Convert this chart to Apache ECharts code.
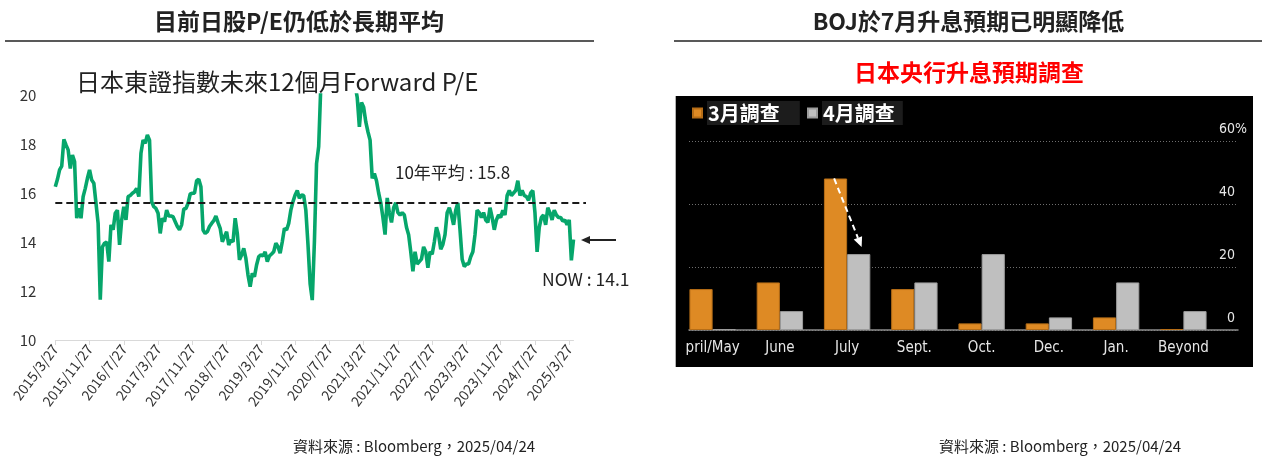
<!DOCTYPE html>
<html>
<head>
<meta charset="utf-8">
<script src="https://cdn.jsdelivr.net/npm/echarts@6/dist/echarts.min.js"></script>
<style>
html,body{margin:0;padding:0;background:#fff;}
#chart{width:1262px;height:458px;}
</style>
</head>
<body>
<div id="chart"></div>
<script>
// 左圖：日本東證指數未來12個月 Forward P/E，約每半月一點（2015/3/27 ~ 2025/4/24）
var peValues = [
    16.26, 16.56, 16.94, 17.1, 18.19, 17.96, 17.76, 17.0, 17.55, 17.28,
    14.97, 15.37, 14.97, 15.85, 16.19, 16.6, 16.94, 16.53, 16.4, 15.58,
    14.76, 11.65, 13.8, 13.95, 14.0, 13.2, 14.7, 14.5, 15.17, 15.3,
    13.88, 14.9, 15.44, 14.9, 15.85, 15.9, 15.99, 16.05, 16.19, 15.85,
    17.62, 18.16, 18.03, 18.37, 18.16, 15.65, 15.44, 15.37, 15.17, 14.35,
    14.97, 14.83, 15.3, 15.06, 15.06, 15.03, 14.83, 14.63, 14.5, 14.7,
    15.35, 15.37, 15.58, 15.96, 15.99, 15.99, 16.5, 16.56, 16.26, 14.49,
    14.35, 14.42, 14.63, 14.76, 14.87, 15.06, 14.79, 14.56, 14.01, 14.22,
    14.42, 13.88, 14.08, 14.01, 14.97, 14.35, 13.27, 13.47, 13.74, 13.33,
    12.65, 12.18, 12.72, 12.58, 13.06, 13.4, 13.47, 13.43, 13.6, 13.2,
    13.43, 13.51, 13.6, 13.95, 13.81, 13.54, 14.01, 14.56, 14.49, 14.76,
    15.3, 15.65, 15.92, 16.1, 15.78, 15.92, 15.9, 15.3, 13.9, 12.3,
    11.63, 14.0, 17.2, 17.9, 20.4, 21.5, 22.0, 22.5, 22.8, 23.0,
    22.6, 22.2, 22.4, 21.8, 21.6, 21.2, 21.0, 20.8, 21.0, 20.6,
    20.4, 19.9, 18.7, 19.7, 19.5, 18.9, 18.5, 18.16, 16.6, 16.8,
    16.5, 16.0, 15.6, 15.0, 14.3, 15.8, 15.2, 14.8, 15.4, 15.6,
    15.2, 15.1, 15.2, 15.1, 14.6, 14.3, 13.6, 12.8, 13.6, 13.1,
    13.2, 13.3, 13.8, 13.6, 12.95, 13.6, 13.5, 14.0, 14.6, 14.3,
    13.7, 13.9, 14.3, 15.2, 15.4, 15.1, 14.7, 15.3, 15.6, 14.5,
    13.3, 13.0, 13.1, 13.1, 13.4, 13.6, 14.3, 15.3, 15.2, 15.0,
    15.2, 14.9, 14.8, 15.4, 15.0, 14.5, 14.9, 15.1, 15.0, 15.3,
    15.1, 15.9, 16.1, 15.9, 16.0, 16.1, 16.5, 15.9, 16.1, 15.9,
    15.85, 15.7, 16.0, 16.1, 15.2, 13.6, 14.6, 15.0, 15.1, 14.7,
    15.4, 15.2, 14.9, 15.3, 15.1, 15.0, 15.0, 14.85, 14.9, 14.7,
    14.9, 13.25, 14.1
];
var xTickLabels = ['2015/3/27', '2015/11/27', '2016/7/27', '2017/3/27', '2017/11/27', '2018/7/27',
    '2019/3/27', '2019/11/27', '2020/7/27', '2021/3/27', '2021/11/27', '2022/7/27',
    '2023/3/27', '2023/11/27', '2024/7/27', '2025/3/27'];
var peAvgLine = 15.6;
var peAvgText = '10年平均 : 15.8';
var peNowText = 'NOW : 14.1';

// 右圖：日本央行升息預期調查 (%)
var bojCategories = ['pril/May', 'June', 'July', 'Sept.', 'Oct.', 'Dec.', 'Jan.', 'Beyond'];
var marchSurvey = [13.0, 15.1, 48.1, 13.0, 2.1, 2.1, 4.0, 0.3];
var aprilSurvey = [0.3, 6.0, 24.1, 15.1, 24.1, 4.0, 15.1, 6.0];

var cjk = '"Noto Sans CJK TC", "Noto Sans", sans-serif';
var narrow = '"Liberation Sans Narrow", "DejaVu Sans Condensed", "Roboto Condensed", "Noto Sans", sans-serif';

var chart = echarts.init(document.getElementById('chart'));

function legendFor(name, left, padRight) {
    return {
        data: [name],
        left: left,
        top: 101,
        padding: 0,
        icon: 'rect',
        itemWidth: 9,
        itemHeight: 9,
        selectedMode: false,
        textStyle: {
            color: '#fff',
            fontSize: 20,
            fontWeight: 'bold',
            lineHeight: 22,
            fontFamily: cjk,
            backgroundColor: '#1c1c1c',
            padding: [1, padRight, 1, 1]
        }
    };
}

var lastIdx = peValues.length - 1;

var option = {
    animation: false,
    textStyle: { fontFamily: cjk },
    grid: [
        { left: 55.3, top: 95, width: 518.2, height: 245 },
        { left: 679, top: 141, width: 538, height: 189 },
        { left: 689, top: 141, width: 549, height: 189 }
    ],
    legend: [
        legendFor('3月調查', 692, 20),
        legendFor('4月調查', 807, 8)
    ],
    xAxis: [
        {
            gridIndex: 0,
            type: 'category',
            boundaryGap: false,
            data: peValues.map(function (v, i) { return i; }),
            axisLine: { lineStyle: { color: '#d9d9d9' } },
            axisTick: { interval: 15, length: 5, lineStyle: { color: '#d9d9d9' } },
            axisLabel: {
                interval: 15,
                rotate: 53,
                fontSize: 14,
                color: '#333',
                margin: 6,
                formatter: function (v, idx) { return xTickLabels[idx / 16] || ''; }
            }
        },
        {
            gridIndex: 1,
            type: 'category',
            data: bojCategories,
            axisLine: { show: false },
            axisTick: { alignWithLabel: true, interval: 0, length: 5, lineStyle: { color: '#8c8c8c' } },
            axisLabel: { interval: 0, color: '#e6e6e6', fontSize: 15, fontFamily: narrow, margin: 11 }
        },
        {
            gridIndex: 2,
            type: 'value',
            min: 0,
            max: 1,
            axisLine: { show: true, lineStyle: { color: '#8c8c8c', width: 1.5 } },
            axisTick: { show: false },
            axisLabel: { show: false },
            splitLine: { show: false }
        }
    ],
    yAxis: [
        {
            gridIndex: 0,
            type: 'value',
            min: 10,
            max: 20,
            interval: 2,
            axisLine: { show: false },
            axisTick: { show: false },
            splitLine: { show: false },
            axisLabel: { fontSize: 15, color: '#333', margin: 19 }
        },
        { gridIndex: 1, type: 'value', min: 0, max: 60, show: false },
        {
            gridIndex: 2,
            type: 'value',
            min: 0,
            max: 60,
            interval: 20,
            position: 'right',
            axisLine: { show: false },
            axisTick: { show: false },
            splitLine: { lineStyle: { color: '#6e6e6e', type: [1, 2] } },
            axisLabel: {
                inside: true,
                margin: -9,
                verticalAlign: 'bottom',
                padding: [0, 0, 5, 0],
                color: '#e6e6e6',
                fontSize: 14,
                fontFamily: narrow,
                formatter: function (v) { return v === 60 ? '60%' : v + '{h|%}'; },
                rich: { h: { color: 'rgba(0,0,0,0)', fontSize: 14, fontFamily: narrow } }
            }
        }
    ],
    series: [
        {
            name: 'Forward P/E',
            type: 'line',
            xAxisIndex: 0,
            yAxisIndex: 0,
            data: peValues,
            showSymbol: false,
            clip: true,
            lineStyle: { color: '#06a66b', width: 3.6 },
            itemStyle: { color: '#06a66b' },
            markLine: {
                silent: true,
                symbol: 'none',
                label: { show: false },
                lineStyle: { color: '#1a1a1a', type: [7, 4], width: 1.8 },
                // 平均線延伸到資料右側一點
                data: [[
                    { coord: [0, peAvgLine] },
                    { coord: [lastIdx, peAvgLine], x: 586 }
                ]]
            }
        },
        {
            name: '3月調查',
            type: 'bar',
            xAxisIndex: 1,
            yAxisIndex: 1,
            data: marchSurvey,
            barGap: '0%',
            barCategoryGap: '31%',
            itemStyle: { color: '#de8a24', borderColor: '#b56d17', borderWidth: 1 }
        },
        {
            name: '4月調查',
            type: 'bar',
            xAxisIndex: 1,
            yAxisIndex: 1,
            data: aprilSurvey,
            barGap: '0%',
            barCategoryGap: '31%',
            itemStyle: { color: '#bfbfbf', borderColor: '#9c9c9c', borderWidth: 1 }
        }
    ],
    graphic: [
        { id: 'panel', type: 'rect', z: -10, shape: { x: 675.7, y: 96, width: 577.3, height: 271 }, style: { fill: '#000' } },
        { id: 't1', type: 'text', style: { text: '目前日股P/E仍低於長期平均', x: 299, y: 21, align: 'center', verticalAlign: 'middle', fill: '#222', font: 'bold 23px ' + cjk } },
        { id: 'r1', type: 'line', shape: { x1: 5, y1: 41, x2: 594, y2: 41 }, style: { stroke: '#222', lineWidth: 1.5 } },
        { id: 't2', type: 'text', style: { text: 'BOJ於7月升息預期已明顯降低', x: 968.5, y: 21, align: 'center', verticalAlign: 'middle', fill: '#222', font: 'bold 23px ' + cjk } },
        { id: 'r2', type: 'line', shape: { x1: 674, y1: 41, x2: 1262, y2: 41 }, style: { stroke: '#222', lineWidth: 1.5 } },
        { id: 't3', type: 'text', style: { text: '日本央行升息預期調查', x: 969, y: 72.5, align: 'center', verticalAlign: 'middle', fill: '#ff0000', font: 'bold 23px ' + cjk } },
        { id: 't4', type: 'text', style: { text: '日本東證指數未來12個月Forward P/E', x: 76, y: 82, align: 'left', verticalAlign: 'middle', fill: '#222', font: '24px ' + cjk } },
        { id: 'a1', type: 'text', style: { text: peAvgText, x: 395, y: 172.5, align: 'left', verticalAlign: 'middle', fill: '#222', font: '17px ' + cjk } },
        { id: 'a2', type: 'text', style: { text: peNowText, x: 542, y: 279, align: 'left', verticalAlign: 'middle', fill: '#222', font: '17.5px ' + cjk } },
        { id: 'ar1', type: 'line', shape: { x1: 588, y1: 240, x2: 616, y2: 240 }, style: { stroke: '#222', lineWidth: 2 } },
        { id: 'ar2', type: 'polygon', shape: { points: [[581, 240], [590, 236], [590, 244]] }, style: { fill: '#222' } },
        { id: 's1', type: 'text', style: { text: '資料來源 : Bloomberg，2025/04/24', x: 414, y: 446, align: 'center', verticalAlign: 'middle', fill: '#222', font: '15px ' + cjk } },
        { id: 's2', type: 'text', style: { text: '資料來源 : Bloomberg，2025/04/24', x: 1060, y: 446, align: 'center', verticalAlign: 'middle', fill: '#222', font: '15px ' + cjk } }
    ]
};
chart.setOption(option);

// 白色虛線箭頭：從7月(3月調查)柱頂指向7月(4月調查)柱頂
var pMar = chart.convertToPixel({ gridIndex: 1 }, [2, marchSurvey[2]]);
var pApr = chart.convertToPixel({ gridIndex: 1 }, [2, aprilSurvey[2]]);
var sx = pMar[0] - 13, sy = pMar[1];
var ex = pApr[0] + 14.5, ey = pApr[1] - 7;
var ang = Math.atan2(ey - sy, ex - sx);
var hl = 10, hw = 4.5;
var bx = ex - hl * Math.cos(ang), by = ey - hl * Math.sin(ang);
chart.setOption({
    graphic: [
        { id: 'boj1', type: 'line', shape: { x1: sx, y1: sy, x2: bx, y2: by }, style: { stroke: '#fff', lineWidth: 2, lineDash: [6, 4] }, z: 10 },
        { id: 'boj2', type: 'polygon', z: 10, shape: { points: [
            [ex, ey],
            [bx + hw * Math.sin(ang), by - hw * Math.cos(ang)],
            [bx - hw * Math.sin(ang), by + hw * Math.cos(ang)]
        ] }, style: { fill: '#fff' } }
    ]
});
</script>
</body>
</html>
